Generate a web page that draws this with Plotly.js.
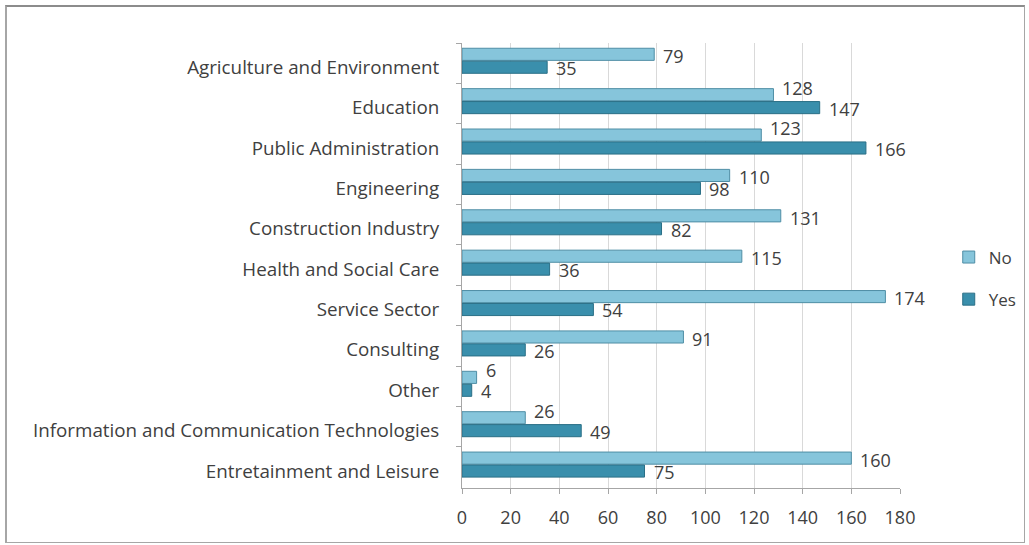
<!DOCTYPE html>
<html>
<head>
<meta charset="utf-8">
<script src="https://cdn.plot.ly/plotly-3.0.1.min.js"></script>
<style>
html,body{margin:0;padding:0;background:#fff;}
#frame{position:absolute;left:5px;top:5px;width:1017px;height:535px;border:1px solid #a6a6a6;border-top:2px solid #8c8c8c;border-left:2px solid #a6a6a6;}
#chart{position:absolute;left:0;top:0;width:1029px;height:545px;}
</style>
</head>
<body>
<div id="frame"></div>
<div id="chart"></div>
<script>
const categories = ["Agriculture and Environment","Education","Public Administration","Engineering","Construction Industry","Health and Social Care","Service Sector","Consulting","Other","Information and Communication Technologies","Entretainment and Leisure"];
const noValues = [79,128,123,110,131,115,174,91,6,26,160];
const yesValues = [35,147,166,98,82,36,54,26,4,49,75];
const xTicks = [0,20,40,60,80,100,120,140,160,180];

const fam = "'Open Sans', sans-serif";
const labelFont = {family:fam, size:18, color:"#404040"};

const traces = [
  {type:"bar", orientation:"h", name:"No", legendgroup:"no", y:categories, x:noValues,
   offset:-0.37, width:0.3,
   marker:{color:"#86c5db", line:{color:"#4f8ea5", width:1}}},
  {type:"bar", orientation:"h", name:"Yes", legendgroup:"yes", y:categories, x:yesValues,
   offset:-0.05, width:0.3,
   marker:{color:"#3a8fac", line:{color:"#2a6f86", width:1}}}
];

const annotations = [];
categories.forEach((c, i) => {
  // lift the "No" label above the "Yes" bar when that bar would run into it
  const lift = (yesValues[i] > noValues[i] - 8) ? 16 : 7;
  annotations.push({x:noValues[i], y:c, xref:"x", yref:"y", text:String(noValues[i]),
    showarrow:false, xanchor:"left", yanchor:"middle", xshift:7, yshift:lift, font:labelFont});
  annotations.push({x:yesValues[i], y:c, xref:"x", yref:"y", text:String(yesValues[i]),
    showarrow:false, xanchor:"left", yanchor:"middle", xshift:7, yshift:-5, font:labelFont});
});

const layout = {
  width:1029, height:545,
  paper_bgcolor:"rgba(0,0,0,0)", plot_bgcolor:"rgba(0,0,0,0)",
  margin:{l:462, r:129, t:43, b:57},
  barmode:"overlay",
  font:{family:fam, size:16, color:"#404040"},
  showlegend:true,
  legend:{xref:"container", yref:"container", x:0.922, y:0.489, xanchor:"left", yanchor:"middle",
          font:{family:fam, size:17, color:"#404040"},
          traceorder:"grouped", tracegroupgap:17, itemwidth:20},
  annotations:annotations,
  xaxis:{range:[0,180], tickvals:xTicks, showgrid:true, gridcolor:"#d9d9d9", gridwidth:1,
         showline:true, linecolor:"#a6a6a6", ticks:"outside", ticklen:5, tickcolor:"#a6a6a6",
         ticklabelstandoff:8, automargin:false,
         tickfont:{family:fam, size:18, color:"#404040"}, zeroline:false, fixedrange:true},
  yaxis:{type:"category", autorange:"reversed", showline:true, linecolor:"#a6a6a6",
         ticks:"outside", tickson:"boundaries", ticklen:5, tickcolor:"#a6a6a6", automargin:false,
         tickfont:{family:fam, size:18.8, color:"#404040"}, ticklabelstandoff:18, ticklabelshift:-4,
         showgrid:false, fixedrange:true}
};

Plotly.newPlot("chart", traces, layout, {displayModeBar:false, staticPlot:true});
</script>
</body>
</html>
